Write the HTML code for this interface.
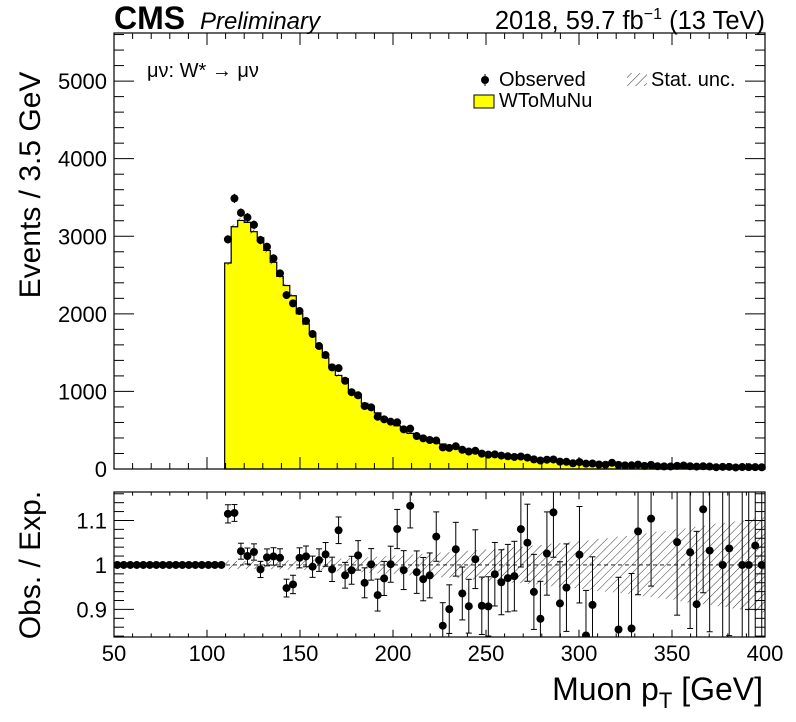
<!DOCTYPE html>
<html><head><meta charset="utf-8"><style>
body{margin:0;background:#fff}
svg{display:block;font-family:"Liberation Sans",sans-serif}
</style></head><body>
<svg id="c" width="796" height="722" viewBox="0 0 796 722" xmlns="http://www.w3.org/2000/svg">
<defs>
<pattern id="hatch" patternUnits="userSpaceOnUse" width="6" height="6" patternTransform="rotate(45)">
<line x1="0" y1="0" x2="0" y2="6" stroke="#000" stroke-width="0.8"/>
</pattern>
</defs>
<g id="topPanel"></g>
<g id="botPanel"></g>
<text x="114" y="29" font-size="32" font-weight="bold">CMS</text>
<text x="200" y="29" font-size="24" font-style="italic">Preliminary</text>
<text x="765" y="29" font-size="25.5" text-anchor="end">2018, 59.7 fb<tspan font-size="16" dy="-10">−1</tspan><tspan dy="10"> (13 TeV)</tspan></text>
<text x="147" y="77" font-size="20">μν: W* → μν</text>
<g>
<g>
<line x1="485" y1="74" x2="485" y2="86" stroke="#000" stroke-width="1"/>
<circle cx="485" cy="80" r="4" fill="#000"/>
<text x="499" y="86" font-size="20">Observed</text></g>
<g>
<rect x="474" y="95" width="20" height="13" fill="#ffff00" stroke="#000" stroke-width="1"/>
<text x="499" y="107" font-size="20">WToMuNu</text></g>
<g>
<rect x="627" y="73" width="20" height="13" fill="url(#hatch)"/>
<text x="651" y="86" font-size="20">Stat. unc.</text></g>
</g>
<text transform="translate(40,185) rotate(-90)" font-size="30" text-anchor="middle">Events / 3.5 GeV</text>
<text transform="translate(40,565) rotate(-90)" font-size="30" text-anchor="middle">Obs. / Exp.</text>
<text x="763" y="700" font-size="32" text-anchor="end">Muon p<tspan font-size="22" dy="8">T</tspan><tspan dy="-8"> [GeV]</tspan></text>
</svg>
<script>
const xEdges0 = 50, binWidth = 3.5, nBins = 100, firstFilled = 17;
const expected = [2655,3123,3204,3179,3059,2981,2817,2664,2482,2365,2233,2004,1871,1747,1568,1435,1323,1206,1164,1002,930,846,794,723,660,609,557,517,459,432,408,383,345,322,302,283,265,248,232,218,204,192,180,169,159,149,140,132,124,117,110,104,98,92,87,82,78,73,69,66,62,59,56,53,50,48,45,43,41,39,37,35,34,32,31,29,28,27,26,25,24,23,22];
const observed = [2960,3488,3303,3243,3148,2951,2865,2715,2522,2242,2135,2036,1907,1740,1585,1469,1310,1300,1137,990,950,812,795,674,640,610,602,511,520,425,395,374,367,278,272,293,248,225,235,198,185,188,173,164,155,161,147,124,109,120,123,95,93,74,89,69,71,58,55,80,53,47,48,57,40,53,36,34,33,41,45,36,31,36,32,23,28,28,20,25,24,24,22];
const mcSumw2Factor = 0.25;
const yTicks = [0,1000,2000,3000,4000,5000];
const rTicks = [0.9,1,1.1];
const xTicks = [50,100,150,200,250,300,350,400];

const NS="http://www.w3.org/2000/svg";
const L=114,R=765,T1=33,B1=469,T2=492,B2=637;
const yMax=5620, rMin=0.838, rMax=1.164;
const X=v=>L+(v-50)/(400-50)*(R-L);
const Y=v=>B1-v/yMax*(B1-T1);
const RY=v=>B2-(v-rMin)/(rMax-rMin)*(B2-T2);
function mk(tag,at,parent){const e=document.createElementNS(NS,tag);for(const k in at)e.setAttribute(k,at[k]);parent.appendChild(e);return e;}
const topG=document.getElementById('topPanel'), botG=document.getElementById('botPanel');
const edge=i=>xEdges0+i*binWidth;

let d=`M${X(edge(firstFilled))},${B1}`;
expected.forEach((v,j)=>{const i=firstFilled+j;d+=` L${X(edge(i))},${Y(v)} L${X(edge(i+1))},${Y(v)}`;});
d+=` L${X(400)},${B1} Z`;
const h=mk('path',{d:d,fill:'#ffff00',stroke:'#000','stroke-width':1.2},topG);


expected.forEach((v,j)=>{const i=firstFilled+j;const u=Math.sqrt(mcSumw2Factor*v);
 const r=mk('rect',{x:X(edge(i)),y:Y(v+u),width:X(edge(i+1))-X(edge(i)),height:Math.max(0,Y(v-u)-Y(v+u)),fill:'url(#hatch)'},topG);
 
 });
observed.forEach((v,j)=>{const i=firstFilled+j;const cx=X(edge(i)+binWidth/2);const e=Math.sqrt(v);
 const g=mk('g',{},topG);
 
 
 mk('line',{x1:cx,x2:cx,y1:Y(v+e),y2:Y(v-e),stroke:'#000'},g);
 mk('circle',{cx:cx,cy:Y(v),r:4,fill:'#000'},g);});
const rb=mk('g',{},botG);


expected.forEach((v,j)=>{const i=firstFilled+j;const u=Math.sqrt(mcSumw2Factor*v)/v;
 mk('rect',{x:X(edge(i)),y:RY(Math.min(rMax,1+u)),width:X(edge(i+1))-X(edge(i)),height:RY(Math.max(rMin,1-u))-RY(Math.min(rMax,1+u)),fill:'url(#hatch)'},rb);});
const dl=mk('line',{x1:L,x2:R,y1:RY(1),y2:RY(1),stroke:'#000','stroke-dasharray':'4,3','stroke-width':0.8},botG);


const clip=mk('clipPath',{id:'rc'},botG);mk('rect',{x:L,y:T2,width:R-L,height:B2-T2},clip);
const rp=mk('g',{'clip-path':'url(#rc)'},botG);
for(let i=0;i<nBins;i++){
 const cx=X(edge(i)+binWidth/2);
 const g=mk('g',{},rp);
 
 
 if(i<firstFilled){mk('circle',{cx:cx,cy:RY(1),r:4,fill:'#000'},g);continue;}
 const o=observed[i-firstFilled],ex=expected[i-firstFilled];const r=o/ex,e=Math.sqrt(o)/ex;
 if(r<rMin||r>rMax)continue;
 mk('line',{x1:cx,x2:cx,y1:RY(r+e),y2:RY(r-e),stroke:'#000'},g);
 mk('line',{x1:cx-3,x2:cx+3,y1:RY(r+e),y2:RY(r+e),stroke:'#000'},g);
 mk('line',{x1:cx-3,x2:cx+3,y1:RY(r-e),y2:RY(r-e),stroke:'#000'},g);
 mk('circle',{cx:cx,cy:RY(r),r:4,fill:'#000'},g);}
[[topG,T1,B1],[botG,T2,B2]].forEach(([p,t,b])=>{
 const f=mk('rect',{x:L,y:t,width:R-L,height:b-t,fill:'none',stroke:'#000','stroke-width':1.2},p);
 
 
 for(let v=50;v<=400;v+=10){const maj=v%50===0;const len=(maj?12:6)*(p===topG?1:0.6);const x=X(v);
  mk('line',{x1:x,x2:x,y1:b,y2:b-len,stroke:'#000'},p);mk('line',{x1:x,x2:x,y1:t,y2:t+len,stroke:'#000'},p);}
});
for(let v=0;v<=5600;v+=200){const maj=v%1000===0,len=maj?20:10,y=Y(v);
 mk('line',{x1:L,x2:L+len,y1:y,y2:y,stroke:'#000'},topG);mk('line',{x1:R,x2:R-len,y1:y,y2:y,stroke:'#000'},topG);}
for(let v=0.84;v<=1.161;v+=0.02){const maj=Math.abs(Math.round(v*10)-v*10)<1e-6,len=maj?20:10,y=RY(v);
 mk('line',{x1:L,x2:L+len,y1:y,y2:y,stroke:'#000'},botG);mk('line',{x1:R,x2:R-len,y1:y,y2:y,stroke:'#000'},botG);}
yTicks.forEach(v=>{const t=mk('text',{x:107,y:Y(v)+8,'font-size':22,'text-anchor':'end'},topG);t.textContent=v;
 
 });
rTicks.forEach(v=>{const t=mk('text',{x:107,y:RY(v)+8,'font-size':22,'text-anchor':'end'},botG);t.textContent=String(v);
 
 });
xTicks.forEach(v=>{const t=mk('text',{x:X(v),y:661,'font-size':22,'text-anchor':'middle'},botG);t.textContent=v;
 
 });
</script>
</body></html>
